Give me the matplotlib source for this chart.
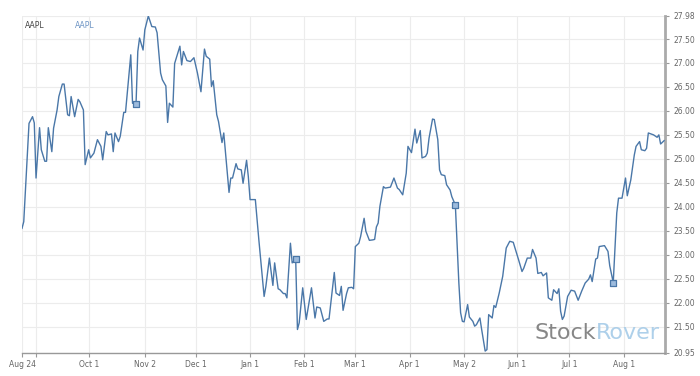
import numpy as np
import pandas as pd
import matplotlib
matplotlib.use("Agg")
import matplotlib.pyplot as plt

# Cours AAPL (jours depuis le 24 août 2015, prix)
start = pd.Timestamp("2015-08-24")
jours = [0, 1, 4, 6, 7, 8, 10, 11, 13, 14, 15, 17, 18, 20, 21, 23, 24, 26, 27, 28,
         30, 32, 33, 35, 36, 38, 39, 41, 43, 45, 46, 48, 49, 51, 52, 53, 55, 56, 58, 59,
         60, 62, 63, 65, 66, 67, 69, 70, 72, 74, 76, 77, 79, 80, 82, 83, 84, 86, 87, 90,
         91, 92, 94, 96, 98, 100, 102, 104, 105, 107, 108, 109, 111, 112, 114, 115, 118, 119, 120, 122,
         123, 125, 126, 128, 129, 130, 133, 135, 138, 139, 141, 143, 144, 146, 147, 149, 150, 151, 153, 154,
         156, 157, 158, 160, 162, 165, 167, 168, 170, 172, 174, 175, 178, 179, 181, 182, 183, 185, 186, 188,
         189, 190, 192, 193, 195, 196, 198, 200, 201, 202, 203, 204, 206, 207, 210, 212, 214, 215, 217, 219,
         220, 222, 224, 225, 227, 228, 230, 231, 232, 234, 235, 237, 238, 239, 241, 242, 244, 245, 247, 249,
         250, 251, 252, 254, 255, 257, 258, 259, 261, 262, 264, 265, 266, 268, 269, 270, 272, 274, 276, 278,
         280, 283, 285, 286, 288, 290, 291, 293, 294, 296, 297, 299, 300, 302, 303, 305, 306, 307, 308, 309,
         311, 313, 315, 317, 319, 321, 323, 324, 325, 327, 328, 329, 332, 334, 335, 337, 339, 340, 342, 344,
         345, 347, 349, 350, 352, 353, 355, 356, 357, 360, 362, 363, 364, 366]
prix = [23.55, 23.69, 25.74, 25.88, 25.75, 24.60, 25.65, 25.19, 24.95, 24.95, 25.65, 25.15, 25.64, 26.02, 26.30, 26.56, 26.56, 25.92, 25.90, 26.30,
        25.88, 26.24, 26.19, 26.02, 24.88, 25.19, 25.02, 25.12, 25.40, 25.26, 24.98, 25.57, 25.50, 25.52, 25.15, 25.54, 25.36, 25.47, 25.97, 25.97,
        26.37, 27.17, 26.16, 26.15, 27.24, 27.52, 27.27, 27.69, 27.98, 27.76, 27.75, 27.63, 26.79, 26.65, 26.52, 25.76, 26.16, 26.08, 26.99, 27.35,
        26.96, 27.24, 27.05, 27.03, 27.11, 26.79, 26.40, 27.29, 27.14, 27.08, 26.51, 26.63, 25.92, 25.78, 25.34, 25.54, 24.30, 24.60, 24.60, 24.90,
        24.79, 24.77, 24.49, 24.97, 24.63, 24.15, 24.15, 23.31, 22.13, 22.34, 22.93, 22.36, 22.83, 22.29, 22.27, 22.19, 22.19, 22.10, 23.24, 22.83,
        22.91, 21.44, 21.58, 22.31, 21.65, 22.31, 21.68, 21.91, 21.89, 21.61, 21.66, 21.66, 22.63, 22.20, 22.15, 22.34, 21.84, 22.19, 22.31, 22.32,
        22.29, 23.17, 23.24, 23.38, 23.76, 23.49, 23.30, 23.31, 23.32, 23.58, 23.66, 24.01, 24.42, 24.39, 24.41, 24.60, 24.39, 24.36, 24.25, 24.70,
        25.26, 25.13, 25.62, 25.33, 25.59, 25.02, 25.05, 25.12, 25.43, 25.83, 25.82, 25.40, 24.77, 24.67, 24.65, 24.46, 24.35, 24.21, 24.04, 22.41,
        21.79, 21.61, 21.60, 21.96, 21.70, 21.61, 21.51, 21.54, 21.68, 21.44, 20.99, 21.02, 21.75, 21.68, 21.94, 21.90, 22.20, 22.55, 23.14, 23.28,
        23.26, 22.90, 22.65, 22.72, 22.93, 22.93, 23.11, 22.93, 22.61, 22.63, 22.56, 22.62, 22.10, 22.05, 22.27, 22.19, 22.29, 21.82, 21.65, 21.72,
        22.13, 22.26, 22.24, 22.05, 22.24, 22.41, 22.49, 22.58, 22.44, 22.91, 22.93, 23.17, 23.19, 23.07, 22.77, 22.42, 23.87, 24.18, 24.18, 24.60,
        24.23, 24.56, 25.08, 25.26, 25.36, 25.19, 25.17, 25.22, 25.54, 25.50, 25.45, 25.50, 25.31, 25.38]

# Marqueurs (publications de résultats)
jours_marq = [65, 156, 247, 337]
prix_marq = [26.15, 22.91, 24.04, 22.42]

ticks_dates = ["2015-08-24", "2015-09-01", "2015-10-01", "2015-11-02", "2015-12-01", "2016-01-01",
               "2016-02-01", "2016-03-01", "2016-04-01", "2016-05-02", "2016-06-01", "2016-07-01", "2016-08-01"]
ticks_labels = ["Aug 24", "", "Oct 1", "Nov 2", "Dec 1", "Jan 1", "Feb 1", "Mar 1", "Apr 1",
                "May 2", "Jun 1", "Jul 1", "Aug 1"]
y_ticks = [20.95, 21.50, 22.00, 22.50, 23.00, 23.50, 24.00, 24.50, 25.00, 25.50,
           26.00, 26.50, 27.00, 27.50, 27.98]

dates = start + pd.to_timedelta(jours, unit="D")
dates_marq = start + pd.to_timedelta(jours_marq, unit="D")

bleu = "#4a77a8"
gris = "#666666"

fig = plt.figure(figsize=(7, 3.76), dpi=100)
ax = fig.add_axes([22/700, 1 - 353/376, (665 - 22)/700, (353 - 16)/376])

ax.plot(dates, prix, color=bleu, lw=1.0, zorder=3)
ax.scatter(dates_marq, prix_marq, marker="s", s=16, facecolor="#9dbbdd",
           edgecolor=bleu, linewidth=0.9, zorder=4)

ax.set_xlim(start, start + pd.Timedelta(days=366.5))
ax.set_ylim(20.95, 27.98)

ax.set_xticks(pd.to_datetime(ticks_dates))
ax.set_xticklabels(ticks_labels)
ax.yaxis.tick_right()
ax.set_yticks(y_ticks)
ax.set_yticklabels([f"{v:.2f}" for v in y_ticks])
ax.tick_params(axis="both", labelsize=5.5, labelcolor=gris, color="#999999",
               length=3, width=0.8)
ax.tick_params(axis="y", pad=3)
ax.tick_params(axis="x", pad=2)

ax.grid(True, color="#ececec", lw=0.8)
ax.set_axisbelow(True)
for s in ["top", "left"]:
    ax.spines[s].set_visible(False)
ax.spines["right"].set_color("#aaaaaa")
ax.spines["right"].set_linewidth(2)
ax.spines["bottom"].set_color("#999999")
ax.spines["bottom"].set_linewidth(1)

# légende
ax.text(0.005, 0.985, "AAPL", transform=ax.transAxes, fontsize=5.5, color="#444444",
        va="top", ha="left")
ax.text(0.082, 0.985, "AAPL", transform=ax.transAxes, fontsize=5.5, color="#6d94c4",
        va="top", ha="left")

# filigrane
ax.text(0.893, 0.06, "Stock", transform=ax.transAxes, fontsize=16, color="#7a7a7a",
        ha="right", va="center", alpha=0.9)
ax.text(0.893, 0.06, "Rover", transform=ax.transAxes, fontsize=16, color="#a5cbe8",
        ha="left", va="center", alpha=0.9)

fig.savefig("out.png", dpi=100)
